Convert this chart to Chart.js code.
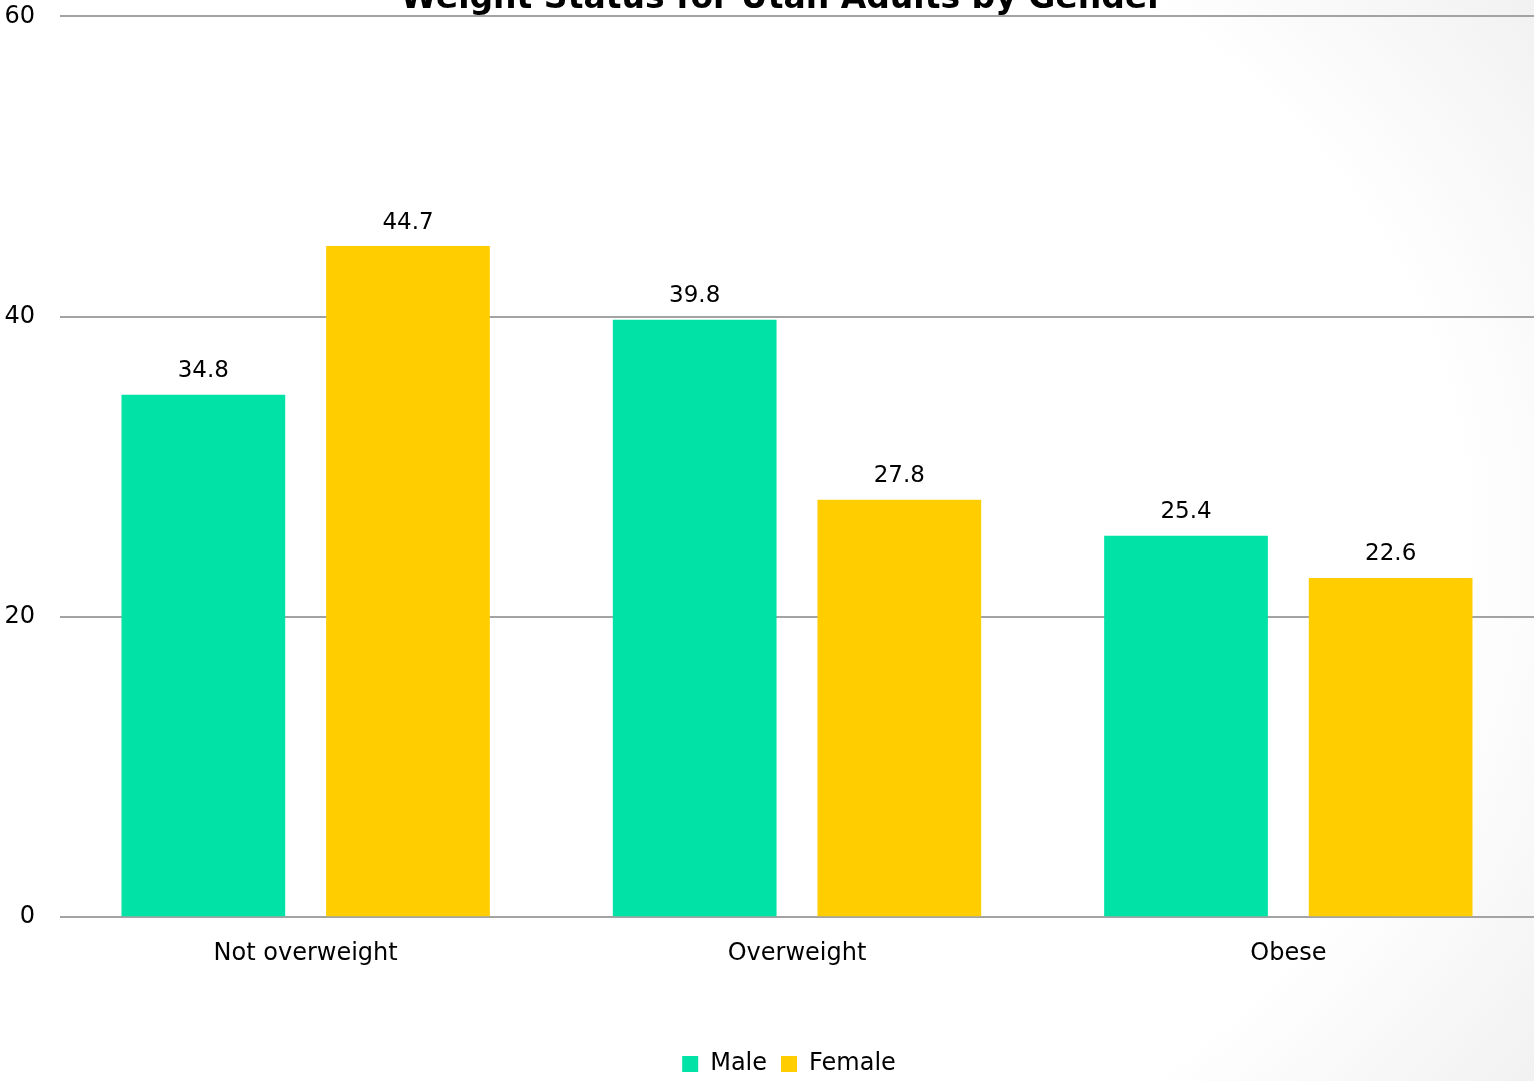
<!DOCTYPE html>
<html>
<head>
<meta charset="utf-8">
<script src="https://cdn.jsdelivr.net/npm/chart.js@4.4.1/dist/chart.umd.min.js"></script>
<style>
  html, body { margin: 0; padding: 0; }
  body {
    width: 1534px; height: 1081px; overflow: hidden; position: relative;
    background: radial-gradient(ellipse 88% 92% at 30% 50%, #ffffff 74%, #efefef 100%);
  }
  #wrap { position: absolute; left: 0; top: -23px; width: 1534px; height: 1109px; }
</style>
</head>
<body>
<div id="wrap"><canvas id="c" width="1534" height="1109"></canvas></div>
<script>
const chartTitle = "Weight Status for Utah Adults by Gender";
const categories = ["Not overweight", "Overweight", "Obese"];
const seriesNames = ["Male", "Female"];
const maleValues = [34.8, 39.8, 25.4];
const femaleValues = [44.7, 27.8, 22.6];
const yTicks = [0, 20, 40, 60];

const FONT = "'DejaVu Sans', Tahoma, sans-serif";

const titlePlugin = {
  id: 'cutTitle',
  afterDraw(chart) {
    const ctx = chart.ctx;
    ctx.save();
    ctx.font = "bold 33px " + FONT;
    ctx.fillStyle = '#000';
    ctx.textAlign = 'center';
    ctx.textBaseline = 'alphabetic';
    ctx.fillText(chartTitle, 782, 31);
    ctx.restore();
  }
};

const shiftLegend = {
  id: 'shiftLegend',
  afterLayout(chart) {
    const lg = chart.legend;
    if (lg) { lg.left += 22; lg.right += 22; }
  }
};

const valueLabels = {
  id: 'valueLabels',
  afterDatasetsDraw(chart) {
    const ctx = chart.ctx;
    ctx.save();
    ctx.font = "23px " + FONT;
    ctx.fillStyle = '#000';
    ctx.textAlign = 'center';
    ctx.textBaseline = 'bottom';
    chart.data.datasets.forEach((ds, di) => {
      const meta = chart.getDatasetMeta(di);
      meta.data.forEach((bar, i) => {
        ctx.fillText(ds.data[i].toFixed(1), bar.x, bar.y - 12);
      });
    });
    ctx.restore();
  }
};

new Chart(document.getElementById('c'), {
  type: 'bar',
  data: {
    labels: categories,
    datasets: [
      { label: seriesNames[0], data: maleValues, backgroundColor: '#00E2A6' },
      { label: seriesNames[1], data: femaleValues, backgroundColor: '#FFCD00' }
    ]
  },
  options: {
    responsive: false,
    animation: false,
    layout: { padding: { top: 0, right: 0, bottom: 0, left: 0 } },
    datasets: { bar: { categoryPercentage: 0.833, barPercentage: 0.80 } },
    scales: {
      x: {
        afterFit(scale) { scale.height += 48; },
        grid: { display: false, drawTicks: false },
        border: { display: false },
        ticks: { color: '#000', font: { family: FONT, size: 24 }, padding: 22 }
      },
      y: {
        min: 0, max: 60,
        afterFit(scale) { scale.width = 60; },
        afterBuildTicks(scale) { scale.ticks = yTicks.map(v => ({ value: v })); },
        grid: { color: '#a3a3a3', lineWidth: 2, drawTicks: false },
        border: { display: false },
        ticks: { color: '#000', font: { family: FONT, size: 24 }, padding: 25 }
      }
    },
    plugins: {
      title: { display: false },
      tooltip: { enabled: false },
      legend: {
        position: 'bottom',
        labels: {
          color: '#000',
          font: { family: FONT, size: 24 },
          boxWidth: 16, boxHeight: 16, padding: 14
        }
      }
    }
  },
  plugins: [valueLabels, titlePlugin, shiftLegend]
});
</script>
</body>
</html>
